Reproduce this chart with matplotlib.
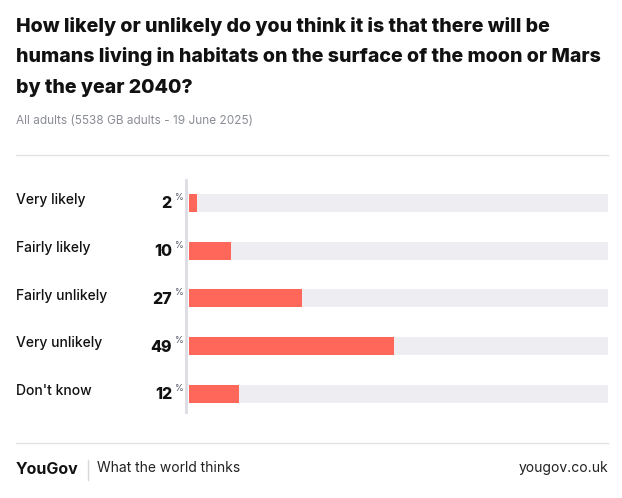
import numpy as np
import matplotlib.pyplot as plt
from matplotlib.transforms import blended_transform_factory
from matplotlib.lines import Line2D

# datos
categorias = ["Very likely", "Fairly likely", "Fairly unlikely", "Very unlikely", "Don't know"]
valores = [2, 10, 27, 49, 12]

lineas_titulo = ["How likely or unlikely do you think it is that there will be",
                 "humans living in habitats on the surface of the moon or Mars",
                 "by the year 2040?"]
subtitulo = "All adults (5538 GB adults - 19 June 2025)"

plt.rcParams['font.family'] = ['Inter', 'DejaVu Sans']

W, H = 622, 498
fig = plt.figure(figsize=(W / 100, H / 100), dpi=100)

def fx(px):
    return px / W

def fy(py):
    return 1 - py / H

# ejes de las barras
top, bot = 180, 412
ax = fig.add_axes([fx(189), fy(bot), fx(608) - fx(189), (bot - top) / H])
paso = 47.75
y = np.arange(len(categorias))
ax.set_ylim(4 + (bot - 394) / paso, -(203 - top) / paso)
ax.set_xlim(0, 100)

ax.barh(y, [100] * len(valores), height=18 / paso, color="#eeeef2", zorder=1)
ax.barh(y, valores, height=18 / paso, color="#ff675b", zorder=2)

for s in ["top", "right", "bottom"]:
    ax.spines[s].set_visible(False)
ax.spines["left"].set_position(("outward", 2))
ax.spines["left"].set_color("#dcdde2")
ax.spines["left"].set_linewidth(2)
ax.set_xticks([])
ax.set_yticks([])

tr = blended_transform_factory(fig.transFigure, ax.transData)
for i, (c, v) in enumerate(zip(categorias, valores)):
    ax.text(fx(16), i - 0.06, c, transform=tr, ha="left", va="center",
            fontsize=10, fontweight="medium", color="#111111")
    ax.text(fx(172), i + 0.02, str(v), transform=tr, ha="right", va="center",
            fontsize=11.5, fontweight="heavy", color="#111111")
    ax.text(fx(175.5), i - 0.12, "%", transform=tr, ha="left", va="center",
            fontsize=6.5, color="#4a5060")

# titulo, linea por linea
for k, t in enumerate(lineas_titulo):
    fig.text(fx(16), fy(32 + 30.5 * k), t, ha="left", va="baseline", fontsize=14.1,
             fontweight="heavy", color="#111111")
fig.text(fx(16), fy(121), subtitulo, ha="left", va="center", fontsize=8.5,
         color="#8a8d96")

# lineas horizontales
fig.add_artist(Line2D([fx(16), fx(608)], [fy(155), fy(155)], color="#e3e3e6", lw=1))
fig.add_artist(Line2D([fx(16), fx(608)], [fy(443), fy(443)], color="#e3e3e6", lw=1))

# pie
fig.text(fx(16), fy(469), "YouGov", ha="left", va="center", fontsize=11.5,
         fontweight="bold", color="#111111")
fig.add_artist(Line2D([fx(88), fx(88)], [fy(460), fy(480)], color="#d8d8dc", lw=1))
fig.text(fx(97), fy(468), "What the world thinks", ha="left", va="center",
         fontsize=10, color="#222222")
fig.text(fx(608), fy(468), "yougov.co.uk", ha="right", va="center",
         fontsize=10, color="#222222")

fig.savefig("out.png", dpi=100)
